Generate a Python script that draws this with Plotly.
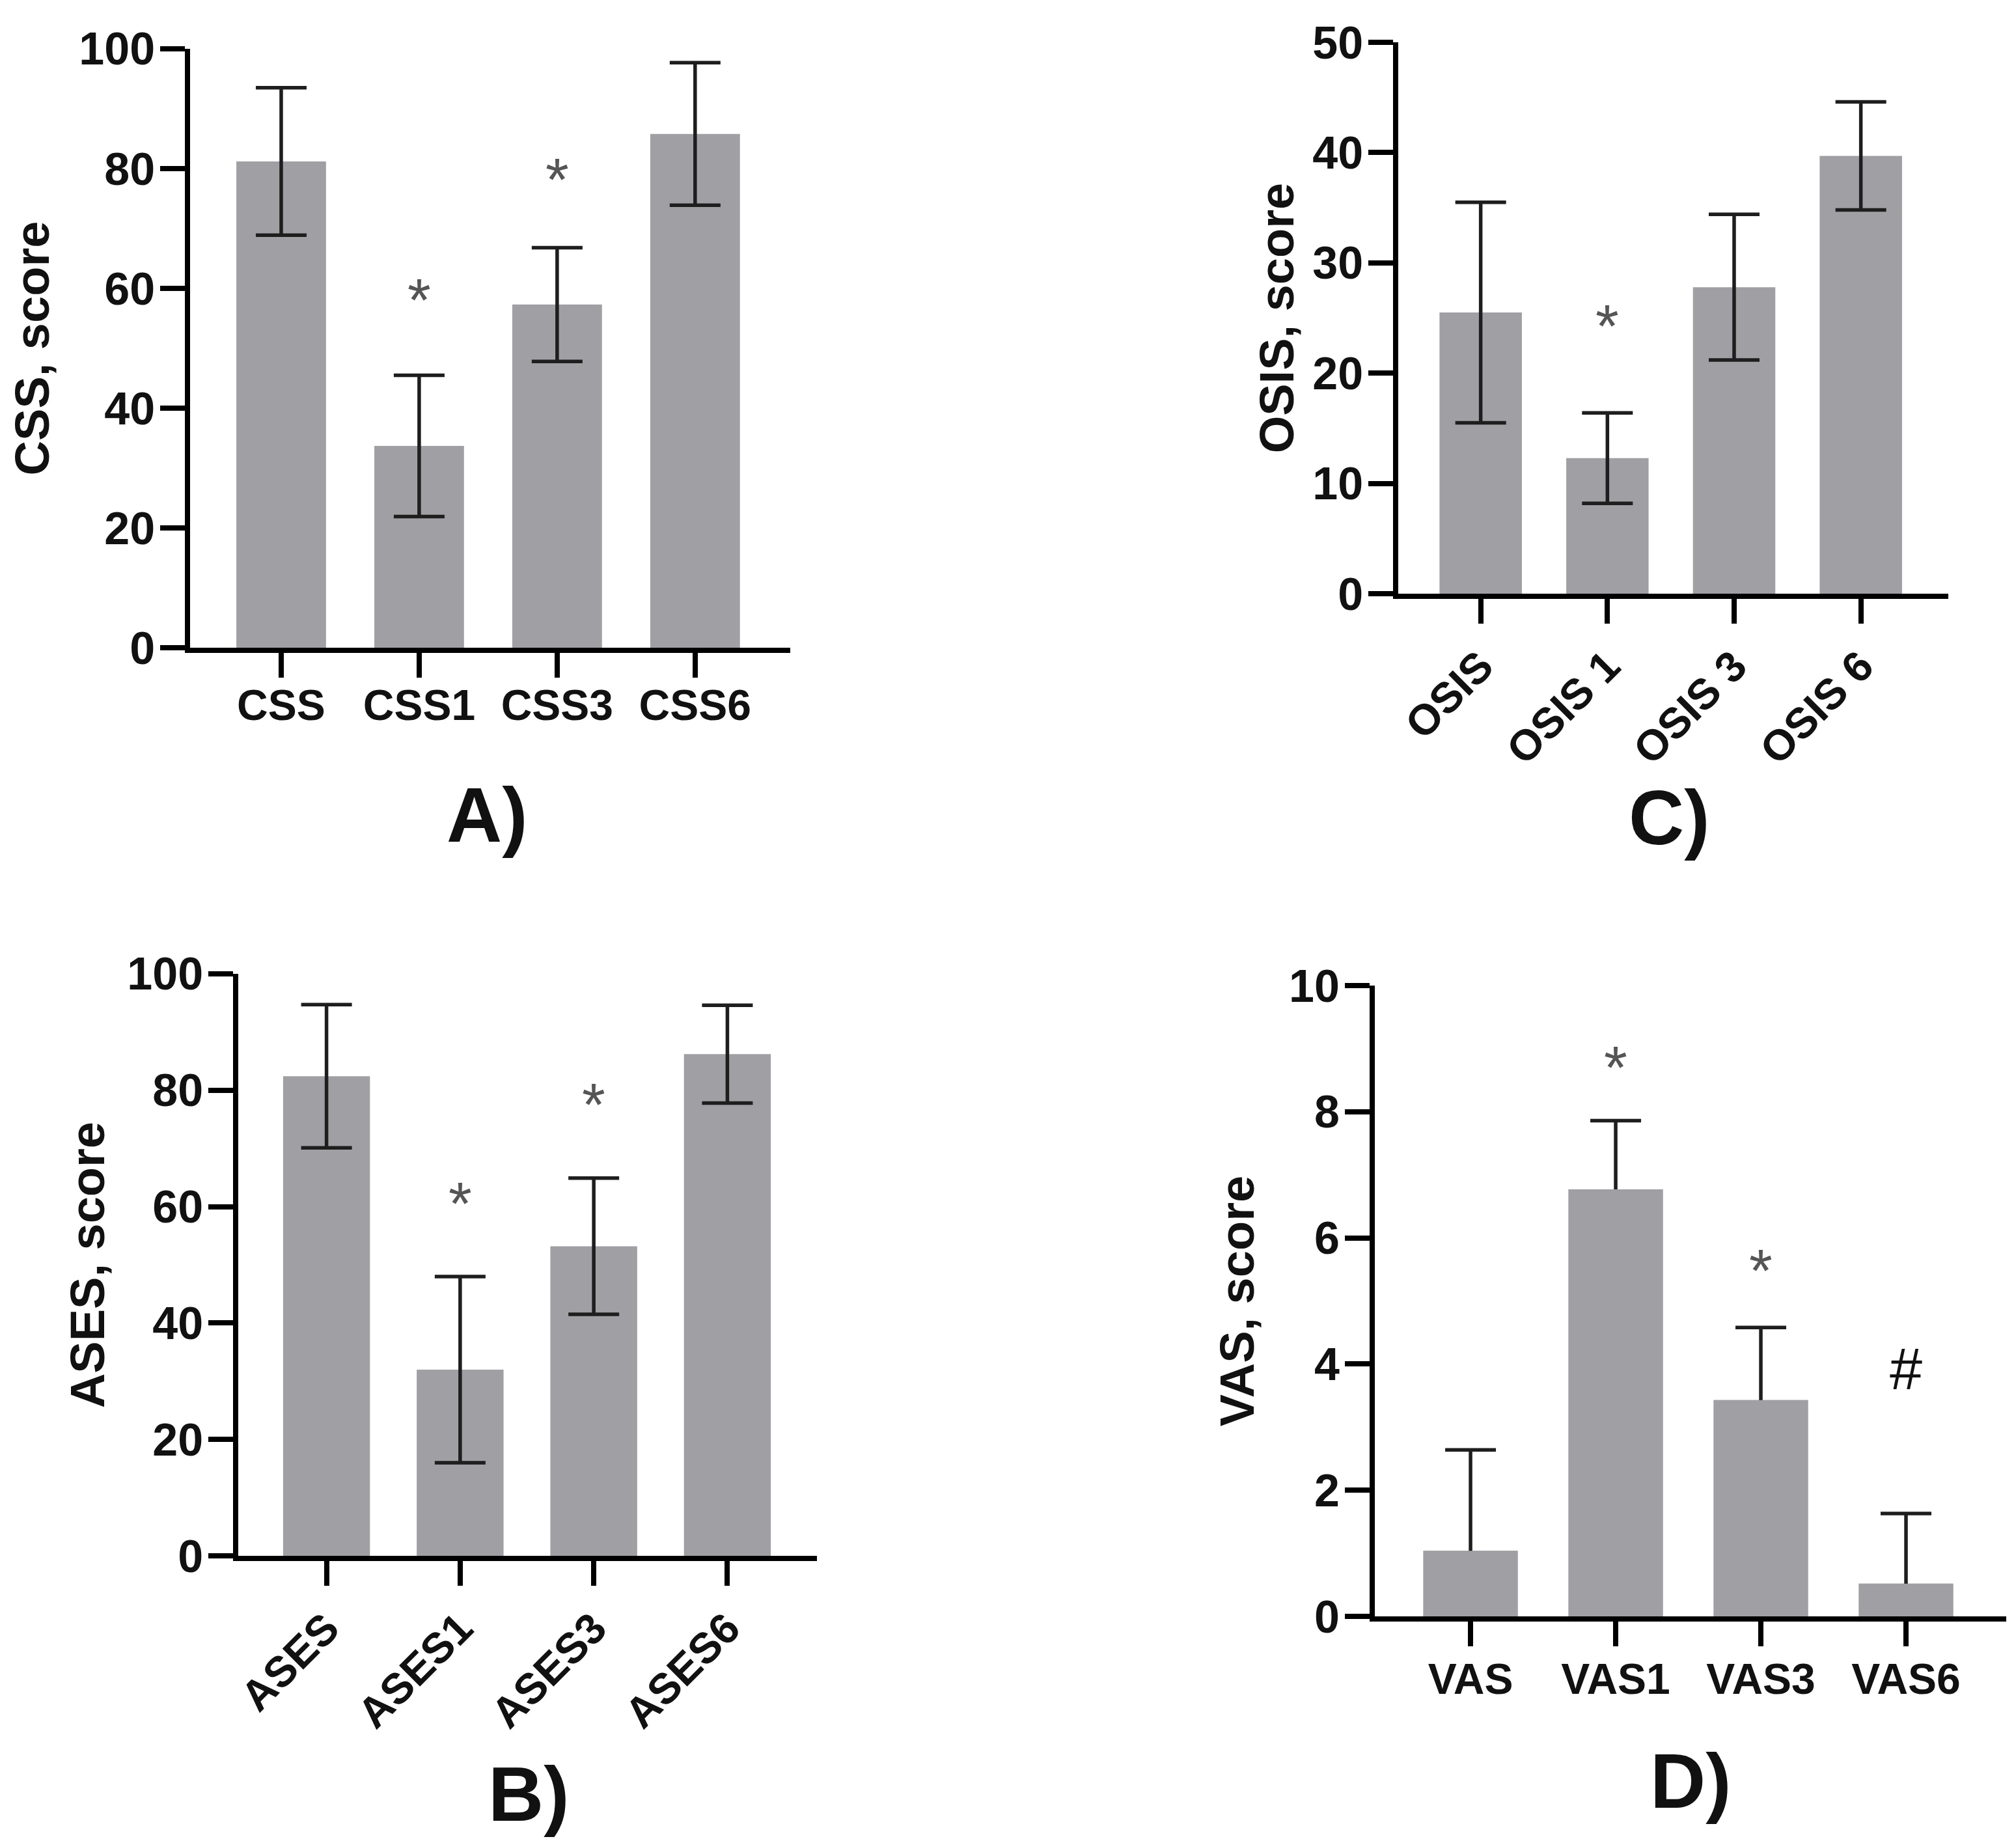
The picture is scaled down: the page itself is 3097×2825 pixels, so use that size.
import plotly.graph_objects as go

# =====================================================
# Data
# =====================================================

css_labels = ["CSS", "CSS1", "CSS3", "CSS6"]
css_mean = [81.2, 33.7, 57.3, 85.8]
css_sd = [12.3, 11.8, 9.5, 11.9]
css_marks = ["", "*", "*", ""]
css_mark_y = [0, 59.6, 79.7, 0]

ases_labels = ["ASES", "ASES1", "ASES3", "ASES6"]
ases_mean = [82.4, 32.0, 53.2, 86.2]
ases_sd = [12.3, 16.0, 11.7, 8.4]
ases_marks = ["", "*", "*", ""]
ases_mark_y = [0, 62.1, 79.1, 0]

osis_labels = ["OSIS", "OSIS 1", "OSIS 3", "OSIS 6"]
osis_mean = [25.5, 12.3, 27.8, 39.7]
osis_sd = [10.0, 4.1, 6.6, 4.9]
osis_marks = ["", "*", "", ""]
osis_mark_y = [0, 25.1, 0, 0]

vas_labels = ["VAS", "VAS1", "VAS3", "VAS6"]
vas_mean = [1.04, 6.77, 3.43, 0.52]
vas_sd = [1.60, 1.09, 1.15, 1.11]
vas_marks = ["", "*", "*", "#"]
vas_mark_y = [0, 8.84, 5.62, 3.87]

# =====================================================
# Style
# =====================================================

W, H = 3097, 2825
FONT = "Liberation Sans, Arial, sans-serif"
BAR_COLOR = "#a0a0a4"
ERR_COLOR = "#1e1e1e"

# small correction for the page offset of the html body
DX = -3 / W
DY = 9 / H

panels = [
    dict(n=1, labels=css_labels, mean=css_mean, sd=css_sd, marks=css_marks, mark_y=css_mark_y,
         xd=[0.0927, 0.3904], yd=[0.6474, 0.9731], xr=[-0.66, 3.69], ymax=100, dtick=20,
         title="CSS, score", angle=0, tag="A)", tagxy=(0.2402, 0.5565), one_sided=False,
         standoff=31, xlab_off=-14),
    dict(n=2, labels=ases_labels, mean=ases_mean, sd=ases_sd, marks=ases_marks, mark_y=ases_mark_y,
         xd=[0.1166, 0.4036], yd=[0.1536, 0.4701], xr=[-0.66, 3.67], ymax=100, dtick=20,
         title="ASES, score", angle=-45, tag="B)", tagxy=(0.2606, 0.0240), one_sided=False,
         standoff=13, xlab_off=0),
    dict(n=3, labels=osis_labels, mean=osis_mean, sd=osis_sd, marks=osis_marks, mark_y=osis_mark_y,
         xd=[0.6920, 0.9648], yd=[0.6768, 0.9766], xr=[-0.65, 3.69], ymax=50, dtick=10,
         title="OSIS, score", angle=-45, tag="C)", tagxy=(0.8266, 0.5550), one_sided=False,
         standoff=7, xlab_off=0),
    dict(n=4, labels=vas_labels, mean=vas_mean, sd=vas_sd, marks=vas_marks, mark_y=vas_mark_y,
         xd=[0.6803, 0.9935], yd=[0.1207, 0.4637], xr=[-0.66, 3.69], ymax=10, dtick=2,
         title="VAS, score", angle=0, tag="D)", tagxy=(0.8370, 0.0310), one_sided=True,
         standoff=32, xlab_off=-6),
]

fig = go.Figure()
annotations = []
layout = {}

for p in panels:
    n = p["n"]
    xa = "x" if n == 1 else f"x{n}"
    ya = "y" if n == 1 else f"y{n}"

    if p["one_sided"]:
        # lower half of the error bar is hidden under an opaque copy of the bars
        minus = [min(s, m) for s, m in zip(p["sd"], p["mean"])]
    else:
        minus = p["sd"]

    fig.add_trace(go.Bar(
        x=p["labels"], y=p["mean"], xaxis=xa, yaxis=ya,
        marker=dict(color=BAR_COLOR, line=dict(width=0)),
        width=0.65,
        error_y=dict(type="data", array=p["sd"], arrayminus=minus, symmetric=False,
                     color=ERR_COLOR, thickness=5.5, width=39),
        showlegend=False,
    ))
    if p["one_sided"]:
        fig.add_trace(go.Bar(
            x=p["labels"], y=p["mean"], xaxis=xa, yaxis=ya,
            marker=dict(color=BAR_COLOR, line=dict(width=0)),
            width=0.65, showlegend=False,
        ))

    axis_common = dict(
        showline=True, linecolor="black", linewidth=8,
        ticks="outside", ticklen=38, tickwidth=8, tickcolor="black",
        showgrid=False, zeroline=False, automargin=False,
    )
    layout[f"xaxis{n}" if n > 1 else "xaxis"] = dict(
        axis_common, domain=[v + DX for v in p["xd"]], anchor=ya, range=p["xr"],
        tickangle=p["angle"], ticklabelstandoff=p["xlab_off"],
        tickfont=dict(family=FONT, size=66, color="#111", weight="bold"),
    )
    layout[f"yaxis{n}" if n > 1 else "yaxis"] = dict(
        axis_common, domain=[v + DY for v in p["yd"]], anchor=xa, range=[0, p["ymax"]],
        dtick=p["dtick"], tick0=0, ticklabelstandoff=-6,
        tickfont=dict(family=FONT, size=70, color="#111", weight="bold"),
        title=dict(text=p["title"], standoff=p["standoff"],
                   font=dict(family=FONT, size=74, color="#111", weight="bold")),
    )

    for lab, mk, my in zip(p["labels"], p["marks"], p["mark_y"]):
        if not mk:
            continue
        is_hash = mk == "#"
        annotations.append(dict(
            x=lab, y=my, xref=xa, yref=ya, text=mk, showarrow=False,
            yanchor="middle", yshift=5 if is_hash else -14,
            font=dict(family=FONT, size=90 if is_hash else 92,
                      color="#111" if is_hash else "#555"),
        ))

    annotations.append(dict(
        x=p["tagxy"][0] + DX, y=p["tagxy"][1] + DY, xref="paper", yref="paper",
        text=p["tag"], showarrow=False, xanchor="center", yanchor="middle",
        font=dict(family=FONT, size=118, color="#111", weight="bold"),
    ))

fig.update_layout(
    **layout,
    annotations=annotations,
    template="none",
    barmode="overlay",
    width=W, height=H, autosize=False,
    margin=dict(l=0, r=0, t=0, b=0),
    paper_bgcolor="white", plot_bgcolor="white",
    font=dict(family=FONT, color="#111"),
)

fig.write_html("out.html")
